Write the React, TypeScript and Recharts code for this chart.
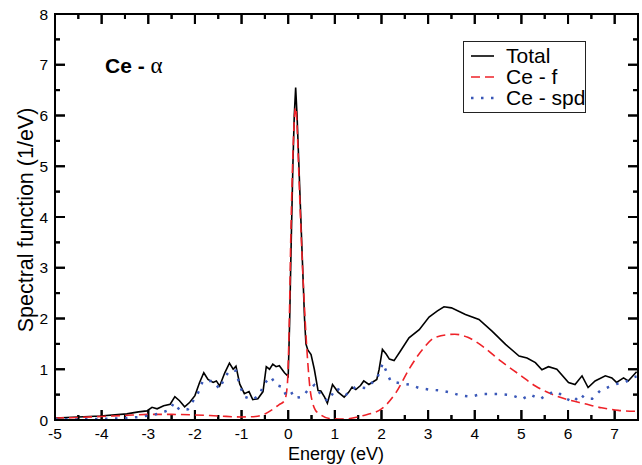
import React from "react";
import { LineChart, Line, XAxis, YAxis, Legend, Customized, ReferenceLine } from "recharts";

const FONT = '"Liberation Sans", Arial, Helvetica, sans-serif';

// Total spectral function
const totalX = [
  -5, -4.5, -4.03, -3.46, -3.21, -3.03, -2.92, -2.81, -2.67, -2.53, -2.43, -2.33, -2.22, -2.11, -2.0,
  -1.9, -1.81, -1.72, -1.61, -1.54, -1.47, -1.36, -1.26, -1.18, -1.12, -1.04, -0.94, -0.84, -0.76,
  -0.65, -0.54, -0.47, -0.4, -0.33, -0.26, -0.19, -0.08, 0.0, 0.03, 0.06, 0.1, 0.13, 0.16, 0.19,
  0.23, 0.27, 0.31, 0.35, 0.38, 0.42, 0.49, 0.56, 0.64, 0.7, 0.78, 0.84, 0.95, 1.07, 1.2, 1.3, 1.37,
  1.45, 1.55, 1.62, 1.73, 1.9, 1.95, 2.02, 2.1, 2.17, 2.27, 2.4, 2.59, 2.81, 3.02, 3.2, 3.34, 3.5,
  3.8, 4.09, 4.37, 4.66, 4.95, 5.12, 5.3, 5.44, 5.58, 5.76, 6.01, 6.15, 6.3, 6.43, 6.58, 6.8, 6.94,
  7.04, 7.19, 7.29, 7.47,
];
const totalY = [
  0.04, 0.06, 0.08, 0.12, 0.16, 0.18, 0.25, 0.22, 0.28, 0.31, 0.46, 0.38, 0.26, 0.35, 0.48,
  0.74, 0.93, 0.8, 0.74, 0.77, 0.67, 0.93, 1.12, 1.0, 1.06, 0.71, 0.52, 0.56, 0.4,
  0.42, 0.56, 1.05, 1.0, 1.1, 1.05, 1.07, 0.93, 0.86, 1.9, 3.3, 5.0, 6.0, 6.55, 6.0,
  5.0, 4.0, 3.0, 2.0, 1.5, 1.38, 1.29, 1.0, 0.58, 0.57, 0.45, 0.33, 0.7, 0.55, 0.45, 0.55, 0.65,
  0.6, 0.68, 0.77, 0.7, 0.8, 1.0, 1.39, 1.3, 1.2, 1.17, 1.35, 1.62, 1.78, 2.03, 2.15, 2.23, 2.21,
  2.08, 1.98, 1.75, 1.49, 1.26, 1.22, 1.13, 0.99, 1.05, 1.0, 0.74, 0.7, 0.87, 0.64, 0.77, 0.87, 0.83,
  0.74, 0.83, 0.77, 0.95,
];

// Ce - f
const fX = [
  -5, -4.5, -4, -3.5, -3, -2.5, -2, -1.5, -1, -0.7, -0.5, -0.35, -0.2, -0.08, -0.02, 0.02, 0.06, 0.1,
  0.13, 0.16, 0.19, 0.23, 0.28, 0.35, 0.42, 0.47, 0.52, 0.58, 0.67, 0.88, 1.2, 1.57, 2.0, 2.31, 2.59,
  2.88, 3.16, 3.57, 3.85, 4.2, 4.56, 4.95, 5.3, 5.65, 6.0, 6.36, 6.72, 7.08, 7.47,
];
const fY = [
  0.04, 0.05, 0.07, 0.09, 0.11, 0.11, 0.1, 0.08, 0.06, 0.07, 0.12, 0.2, 0.3, 0.38, 0.67, 1.8, 3.8, 5.2,
  5.9, 6.16, 5.8, 4.8, 3.6, 2.2, 1.13, 0.6, 0.35, 0.2, 0.12, 0.03, 0.02, 0.08, 0.22, 0.54, 1.0,
  1.39, 1.63, 1.69, 1.63, 1.43, 1.16, 0.9, 0.67, 0.51, 0.4, 0.32, 0.24, 0.19, 0.17,
];

// Ce - spd
const spdX = [
  -5, -4.54, -4.07, -3.6, -3.18, -2.79, -2.54, -2.45, -2.33, -2.15, -1.93, -1.83, -1.61, -1.47, -1.36,
  -1.26, -1.12, -1.04, -0.94, -0.76, -0.62, -0.51, -0.37, -0.26, -0.12, -0.05, 0.06, 0.13, 0.31, 0.42,
  0.56, 0.7, 0.85, 1.03, 1.24, 1.44, 1.66, 1.9, 1.99, 2.03, 2.12, 2.2, 2.42, 2.59, 2.81, 3.02, 3.27,
  3.49, 3.7, 3.92, 4.13, 4.34, 4.55, 4.8, 5.01, 5.19, 5.4, 5.58, 5.76, 5.94, 6.12, 6.26, 6.37, 6.52,
  6.69, 6.87, 7.04, 7.22, 7.4, 7.47,
];
const spdY = [
  0.02, 0.01, 0.02, 0.03, 0.06, 0.12, 0.2, 0.34, 0.2, 0.21, 0.54, 0.77, 0.77, 0.61, 0.84,
  0.97, 0.97, 0.68, 0.46, 0.4, 0.49, 0.72, 0.85, 0.69, 0.65, 0.49, 0.56, 0.43, 0.46, 0.59,
  0.69, 0.5, 0.37, 0.63, 0.5, 0.65, 0.63, 0.81, 1.02, 1.12, 0.92, 0.76, 0.72, 0.7, 0.63, 0.6, 0.58,
  0.54, 0.48, 0.46, 0.51, 0.51, 0.51, 0.49, 0.41, 0.5, 0.41, 0.52, 0.56, 0.43, 0.35, 0.51, 0.42, 0.42,
  0.58, 0.65, 0.71, 0.74, 0.84, 0.86,
];

const xTicks = [-5, -4.5, -4, -3.5, -3, -2.5, -2, -1.5, -1, -0.5, 0, 0.5, 1, 1.5, 2, 2.5, 3, 3.5, 4, 4.5, 5, 5.5, 6, 6.5, 7];
const yTicks = [0, 0.5, 1, 1.5, 2, 2.5, 3, 3.5, 4, 4.5, 5, 5.5, 6, 6.5, 7, 7.5, 8];

const X_MIN = -5;
const X_MAX = 7.5;
const Y_MIN = 0;
const Y_MAX = 8;

// chart layout
const CHART_W = 642;
const CHART_H = 465;
const MARGIN = { top: 14, right: 4, bottom: 1, left: 0 };
const Y_AXIS_W = 55;
const X_AXIS_H = 44;

const PLOT_L = MARGIN.left + Y_AXIS_W;
const PLOT_T = MARGIN.top;
const PLOT_R = CHART_W - MARGIN.right;
const PLOT_B = CHART_H - MARGIN.bottom - X_AXIS_H;

const zip = (xs: number[], ys: number[]) => xs.map((x, i) => ({ x, y: ys[i] }));

const series = [
  { name: "Total", data: zip(totalX, totalY), color: "#000000", dash: undefined, width: 1.6, type: "linear" },
  { name: "Ce - f", data: zip(fX, fY), color: "#ee2228", dash: "9 5", width: 1.6, type: "monotone" },
  { name: "Ce - spd", data: zip(spdX, spdY), color: "#3a58b8", dash: "2.5 7.5", width: 2.5, type: "linear" },
];

const isMajor = (v: number) => Number.isInteger(v);

// inward tick lengths in data units (about 10px major / 5px minor)
const xTickLen = (v: number) => (isMajor(v) ? 0.197 : 0.098);
const yTickLen = (v: number) => (isMajor(v) ? 0.214 : 0.107);

const px = (x: number) => PLOT_L + ((x - X_MIN) / (X_MAX - X_MIN)) * (PLOT_R - PLOT_L);
const py = (y: number) => PLOT_B - ((y - Y_MIN) / (Y_MAX - Y_MIN)) * (PLOT_B - PLOT_T);

function bottomTick({ x, y, payload }: any) {
  const v = payload.value;
  if (!isMajor(v)) return <g />;
  return (
    <text x={x} y={y + 19} textAnchor="middle" fontSize={15.5} fontFamily={FONT} fill="#000">{v}</text>
  );
}

// box frame with inward ticks, drawn as filled rects
function Frame() {
  const len = (v: number) => (isMajor(v) ? 10 : 5);
  return (
    <g fill="#000">
      <rect x={PLOT_L - 1} y={PLOT_T - 1} width={PLOT_R - PLOT_L + 2} height={2} />
      <rect x={PLOT_R - 1} y={PLOT_T - 1} width={2} height={PLOT_B - PLOT_T + 2} />
      <rect x={PLOT_L - 1} y={PLOT_T - 1} width={2} height={PLOT_B - PLOT_T + 2} />
      <rect x={PLOT_L - 1} y={PLOT_B - 1} width={PLOT_R - PLOT_L + 2} height={2} />
      {xTicks.map((v) => (
        <g key={`x${v}`}>
          <rect x={px(v) - 1} y={PLOT_B - len(v)} width={2} height={len(v)} />
          <rect x={px(v) - 1} y={PLOT_T} width={2} height={len(v)} />
        </g>
      ))}
      {yTicks.map((v) => (
        <g key={`y${v}`}>
          <rect x={PLOT_L} y={py(v) - 1} width={len(v)} height={2} />
          <rect x={PLOT_R - len(v)} y={py(v) - 1} width={len(v)} height={2} />
        </g>
      ))}
    </g>
  );
}

function LegendBox() {
  return (
    <div
      style={{
        width: 123, height: 72, boxSizing: "border-box", border: "1px solid #222", background: "#fff",
        paddingTop: 3, fontFamily: FONT, fontSize: 21, lineHeight: "21px", color: "#000",
      }}
    >
      {series.map((s) => (
        <div key={s.name} style={{ display: "flex", alignItems: "center", height: 21 }}>
          <svg width={42} height={21} style={{ flex: "none" }}>
            <line x1={7} x2={30} y1={11} y2={11} stroke={s.color} strokeWidth={s.width} strokeDasharray={s.dash} />
          </svg>
          <span style={{ whiteSpace: "nowrap" }}>{s.name}</span>
        </div>
      ))}
    </div>
  );
}

function Labels() {
  return (
    <g fontFamily={FONT} fill="#000">
      <text x={105} y={73} fontSize={21}>
        <tspan fontWeight="bold">Ce - </tspan>
        <tspan fontFamily='"Liberation Serif", "DejaVu Serif", serif' fontSize={23}>α</tspan>
      </text>
      <text x={336} y={460} textAnchor="middle" fontSize={18}>Energy (eV)</text>
      <text x={33} y={220} textAnchor="middle" fontSize={21.5} transform="rotate(-90 33 220)">
        Spectral function (1/eV)
      </text>
    </g>
  );
}

const tickStyle = { stroke: "#000", strokeWidth: 2, ifOverflow: "visible" as const };

export default function App() {
  return (
    <div style={{ position: "absolute", left: 0, top: 0, background: "#fff" }}>
      <LineChart width={CHART_W} height={CHART_H} margin={MARGIN}>
        <XAxis
          dataKey="x" type="number" domain={[X_MIN, X_MAX]} ticks={xTicks} interval={0} allowDataOverflow
          height={X_AXIS_H} tickSize={0} tickMargin={0} tickLine={false} tick={bottomTick}
          axisLine={{ stroke: "#000", strokeWidth: 2 }}
        />
        <YAxis
          type="number" domain={[Y_MIN, Y_MAX]} ticks={yTicks} interval={0} allowDataOverflow width={Y_AXIS_W}
          tickSize={0} tickMargin={7} tickLine={false}
          tickFormatter={(v: number) => (isMajor(v) ? String(v) : "")}
          tick={{ fill: "#000", fontSize: 15.5, fontFamily: FONT }}
          axisLine={{ stroke: "#000", strokeWidth: 2 }}
        />
        {/* frame: top and right, plus inward ticks */}
        <ReferenceLine y={Y_MAX} {...tickStyle} />
        <ReferenceLine x={X_MAX} {...tickStyle} />
        {xTicks.map((v) => (
          <ReferenceLine key={`xb${v}`} segment={[{ x: v, y: Y_MIN }, { x: v, y: Y_MIN + xTickLen(v) }]} {...tickStyle} />
        ))}
        {xTicks.map((v) => (
          <ReferenceLine key={`xt${v}`} segment={[{ x: v, y: Y_MAX }, { x: v, y: Y_MAX - xTickLen(v) }]} {...tickStyle} />
        ))}
        {yTicks.map((v) => (
          <ReferenceLine key={`yl${v}`} segment={[{ x: X_MIN, y: v }, { x: X_MIN + yTickLen(v), y: v }]} {...tickStyle} />
        ))}
        {yTicks.map((v) => (
          <ReferenceLine key={`yr${v}`} segment={[{ x: X_MAX, y: v }, { x: X_MAX - yTickLen(v), y: v }]} {...tickStyle} />
        ))}
        {series.map((s) => (
          <Line
            key={s.name}
            data={s.data}
            dataKey="y"
            name={s.name}
            type={s.type as any}
            stroke={s.color}
            strokeWidth={s.width}
            strokeDasharray={s.dash}
            dot={false}
            activeDot={false}
            isAnimationActive={false}
          />
        ))}
        <Legend
          layout="vertical" verticalAlign="middle" align="center"
          wrapperStyle={{ position: "absolute", left: 463, top: 41, width: 123, height: 72 }}
          content={() => <LegendBox />}
        />
        <Customized component={Frame} />
        <Customized component={Labels} />
      </LineChart>
    </div>
  );
}
